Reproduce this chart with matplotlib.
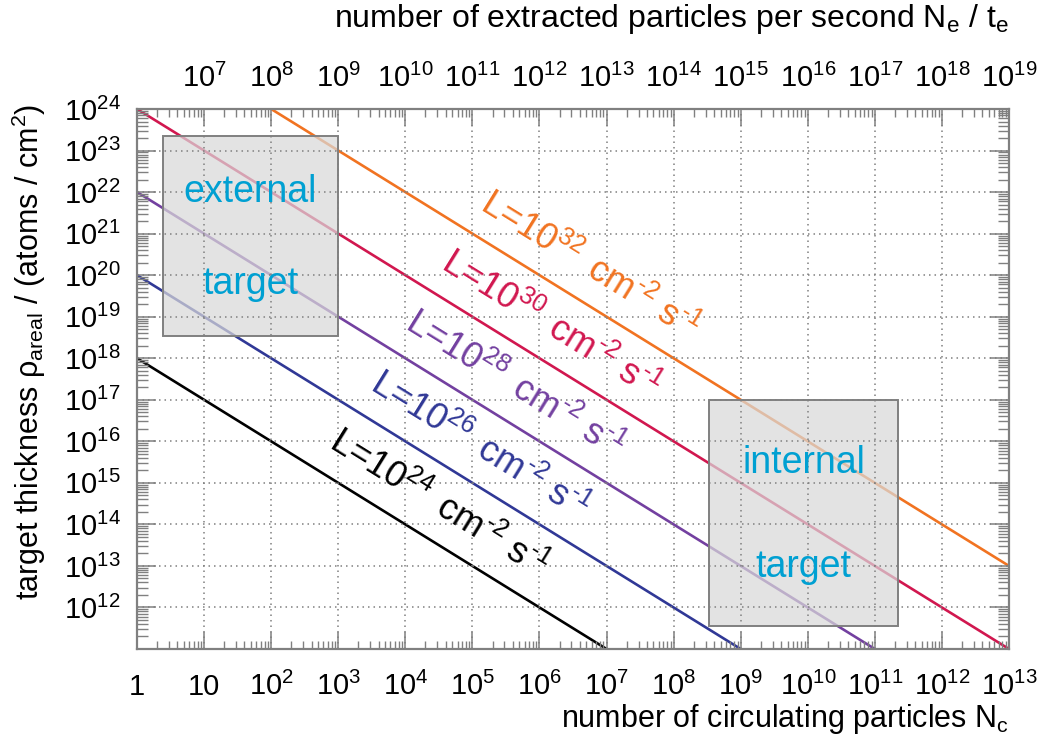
import math
import matplotlib
matplotlib.use("Agg")
import matplotlib.pyplot as plt
from matplotlib.patches import Rectangle
from matplotlib.ticker import LogLocator, FixedLocator, FixedFormatter, NullFormatter

plt.rcParams['font.family'] = ['Liberation Sans', 'DejaVu Sans']
plt.rcParams['mathtext.fontset'] = 'custom'
plt.rcParams['mathtext.rm'] = 'Liberation Sans'
plt.rcParams['mathtext.it'] = 'Liberation Sans:italic'
plt.rcParams['mathtext.default'] = 'regular'

# luminosity lines: start / end points (N_c, rho)
lum_exp = [32, 30, 28, 26, 24]
line_n0 = [1e2, 1, 1, 1, 1]
line_r0 = [1e24, 1e24, 1e22, 1e20, 1e18]
line_n1 = [1e13, 1e13, 1e11, 1e9, 1e7]
line_r1 = [1e13, 1e11, 1e11, 1e11, 1e11]
line_colors = ['#F17321', '#D1174F', '#7340A0', '#303896', '#000000']
# label centre along each line (N_c)
label_n = [10**6.75, 10**6.17, 10**5.62, 10**5.10, 10**4.50]

# target regions (N_c range, rho range)
box_names = ['external', 'internal']
box_n = [(2.4, 1e3), (3.4e8, 2.2e11)]
box_r = [(3.5e18, 2.2e23), (3.5e11, 1e17)]

bottom_exp = list(range(0, 14))
top_exp = list(range(7, 20))
y_exp = list(range(12, 25))

fig = plt.figure(figsize=(10.46, 7.47), dpi=100)
ax = fig.add_axes([137/1046, 1-649/747, (1009-137)/1046, (649-109)/747])
ax.set_xscale('log')
ax.set_yscale('log')
ax.set_xlim(1, 1e13)
ax.set_ylim(1e11, 1e24)

gray = '#808080'

for i in range(len(lum_exp)):
    ax.plot([line_n0[i], line_n1[i]], [line_r0[i], line_r1[i]],
            color=line_colors[i], lw=1.9, solid_capstyle='butt', zorder=2)

for name, bn, br in zip(box_names, box_n, box_r):
    ax.add_patch(Rectangle((bn[0], br[0]), bn[1]-bn[0], br[1]-br[0],
                           facecolor='#d9d9d9', alpha=0.72, edgecolor='none', zorder=3))
    ax.add_patch(Rectangle((bn[0], br[0]), bn[1]-bn[0], br[1]-br[0],
                           facecolor='none', edgecolor=gray, lw=1.4, zorder=3.1))
    xc = math.sqrt(bn[0]*bn[1])
    ly0, ly1 = math.log10(br[0]), math.log10(br[1])
    ax.text(xc, 10**(ly0 + 0.72*(ly1-ly0)), name, color='#00A0D2', fontsize=27,
            ha='center', va='center', zorder=5)
    ax.text(xc, 10**(ly0 + 0.26*(ly1-ly0)), 'target', color='#00A0D2', fontsize=27,
            ha='center', va='center', zorder=5)

# rotation of the lines on screen
p0 = ax.transData.transform((1, 1e20))
p1 = ax.transData.transform((10, 1e19))
ang = math.degrees(math.atan2(p1[1]-p0[1], p1[0]-p0[0]))

for i in range(len(lum_exp)):
    n = label_n[i]
    slope = (math.log10(line_r1[i]) - math.log10(line_r0[i])) / (math.log10(line_n1[i]) - math.log10(line_n0[i]))
    r = 10**(math.log10(line_r0[i]) + slope*(math.log10(n) - math.log10(line_n0[i])))
    ax.annotate(r'L=10$^{%d}$$\,$ cm$^{\text{-}2}$ s$^{\text{-}1}$' % lum_exp[i],
                xy=(n, r), xytext=(0, 29), textcoords='offset points',
                rotation=ang, ha='center', va='center', color=line_colors[i],
                fontsize=26, zorder=5)

# grid and axes styling
ax.grid(True, which='major', color=gray, lw=1.1, ls=(0, (1, 2.6)))
ax.xaxis.set_zorder(4)
ax.yaxis.set_zorder(4)
for s in ax.spines.values():
    s.set_color(gray)
    s.set_linewidth(1.6)
    s.set_zorder(6)

ax.xaxis.set_major_locator(FixedLocator([10.0**e for e in bottom_exp]))
ax.xaxis.set_major_formatter(FixedFormatter(['1', '10'] + ['$10^{%d}$' % e for e in bottom_exp[2:]]))
ax.xaxis.set_minor_locator(LogLocator(base=10, subs=range(2, 10), numticks=100))
ax.xaxis.set_minor_formatter(NullFormatter())
ax.yaxis.set_major_locator(FixedLocator([10.0**e for e in y_exp]))
ax.yaxis.set_major_formatter(FixedFormatter(['$10^{%d}$' % e for e in y_exp]))
ax.yaxis.set_minor_locator(LogLocator(base=10, subs=range(2, 10), numticks=100))
ax.yaxis.set_minor_formatter(NullFormatter())

ax.tick_params(axis='x', which='major', direction='in', length=12, width=1.1, color=gray,
               labelsize=21, pad=33, top=False)
ax.tick_params(axis='x', which='minor', direction='in', length=6, width=1.0, color=gray, top=False)
ax.tick_params(axis='y', which='major', direction='in', length=14, width=1.1, color=gray,
               labelsize=21, pad=12, right=True)
ax.tick_params(axis='y', which='minor', direction='in', length=8, width=1.0, color=gray, right=True)
for lab in ax.get_xticklabels():
    lab.set_verticalalignment('baseline')

# top axis: extracted particles per second
ax2 = ax.twiny()
ax2.set_xscale('log')
ax2.set_xlim(1e6, 1e19)
ax2.xaxis.set_major_locator(FixedLocator([10.0**e for e in top_exp]))
ax2.xaxis.set_major_formatter(FixedFormatter(['$10^{%d}$' % e for e in top_exp]))
ax2.xaxis.set_minor_locator(LogLocator(base=10, subs=range(2, 10), numticks=100))
ax2.xaxis.set_minor_formatter(NullFormatter())
ax2.tick_params(axis='x', which='major', direction='in', length=12, width=1.1, color=gray,
                labelsize=21, pad=16)
ax2.tick_params(axis='x', which='minor', direction='in', length=6, width=1.0, color=gray)
for lab in ax2.get_xticklabels():
    lab.set_verticalalignment('baseline')
for s in ax2.spines.values():
    s.set_visible(False)

fig.text(1009/1046, 1-727/747, 'number of circulating particles N$_{c}$', fontsize=22,
         ha='right', va='baseline')
fig.text(1009/1046, 1-27/747, 'number of extracted particles per second N$_{e}$ / t$_{e}$',
         fontsize=23, ha='right', va='baseline')
fig.text(29/1046, 1-352/747, r'target thickness $\rho_{areal}$ / (atoms / cm$^{2}$)',
         fontsize=22, rotation=90, ha='center', va='center')

fig.savefig('out.png', dpi=100)
